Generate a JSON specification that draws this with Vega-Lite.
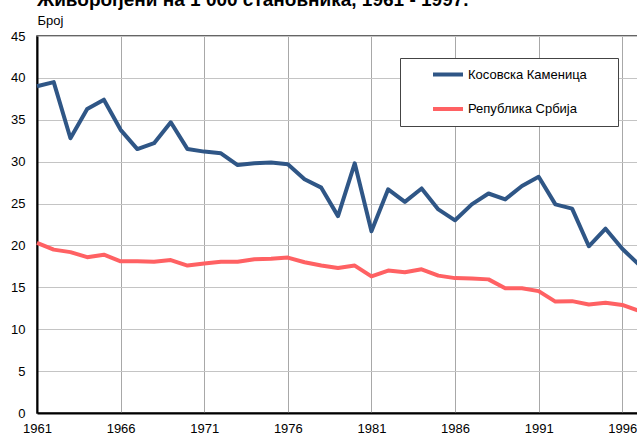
{
  "$schema": "https://vega.github.io/schema/vega-lite/v6.json",
  "width": 602,
  "height": 377,
  "autosize": {"type": "none"},
  "padding": {"left": 37, "top": 36, "right": 0, "bottom": 23},
  "background": "white",
  "title": {
    "text": "Живорођени на 1 000 становника, 1961 - 1997.",
    "anchor": "start",
    "frame": "group",
    "font": "Liberation Sans",
    "fontSize": 19,
    "fontWeight": "bold",
    "color": "#000000",
    "baseline": "alphabetic",
    "offset": -11
  },
  "data": {
    "values": [
      {"year": 1961, "region": "Косовска Каменица", "value": 39.0},
      {"year": 1962, "region": "Косовска Каменица", "value": 39.5},
      {"year": 1963, "region": "Косовска Каменица", "value": 32.8},
      {"year": 1964, "region": "Косовска Каменица", "value": 36.3},
      {"year": 1965, "region": "Косовска Каменица", "value": 37.4},
      {"year": 1966, "region": "Косовска Каменица", "value": 33.8},
      {"year": 1967, "region": "Косовска Каменица", "value": 31.5},
      {"year": 1968, "region": "Косовска Каменица", "value": 32.2},
      {"year": 1969, "region": "Косовска Каменица", "value": 34.7},
      {"year": 1970, "region": "Косовска Каменица", "value": 31.5},
      {"year": 1971, "region": "Косовска Каменица", "value": 31.2},
      {"year": 1972, "region": "Косовска Каменица", "value": 31.0},
      {"year": 1973, "region": "Косовска Каменица", "value": 29.6},
      {"year": 1974, "region": "Косовска Каменица", "value": 29.8},
      {"year": 1975, "region": "Косовска Каменица", "value": 29.9},
      {"year": 1976, "region": "Косовска Каменица", "value": 29.7},
      {"year": 1977, "region": "Косовска Каменица", "value": 27.9},
      {"year": 1978, "region": "Косовска Каменица", "value": 26.9},
      {"year": 1979, "region": "Косовска Каменица", "value": 23.5},
      {"year": 1980, "region": "Косовска Каменица", "value": 29.8},
      {"year": 1981, "region": "Косовска Каменица", "value": 21.7},
      {"year": 1982, "region": "Косовска Каменица", "value": 26.7},
      {"year": 1983, "region": "Косовска Каменица", "value": 25.2},
      {"year": 1984, "region": "Косовска Каменица", "value": 26.8},
      {"year": 1985, "region": "Косовска Каменица", "value": 24.3},
      {"year": 1986, "region": "Косовска Каменица", "value": 23.0},
      {"year": 1987, "region": "Косовска Каменица", "value": 24.9},
      {"year": 1988, "region": "Косовска Каменица", "value": 26.2},
      {"year": 1989, "region": "Косовска Каменица", "value": 25.5},
      {"year": 1990, "region": "Косовска Каменица", "value": 27.1},
      {"year": 1991, "region": "Косовска Каменица", "value": 28.2},
      {"year": 1992, "region": "Косовска Каменица", "value": 24.9},
      {"year": 1993, "region": "Косовска Каменица", "value": 24.4},
      {"year": 1994, "region": "Косовска Каменица", "value": 19.9},
      {"year": 1995, "region": "Косовска Каменица", "value": 22.0},
      {"year": 1996, "region": "Косовска Каменица", "value": 19.6},
      {"year": 1997, "region": "Косовска Каменица", "value": 17.7},
      {"year": 1961, "region": "Република Србија", "value": 20.3},
      {"year": 1962, "region": "Република Србија", "value": 19.5},
      {"year": 1963, "region": "Република Србија", "value": 19.2},
      {"year": 1964, "region": "Република Србија", "value": 18.6},
      {"year": 1965, "region": "Република Србија", "value": 18.9},
      {"year": 1966, "region": "Република Србија", "value": 18.1},
      {"year": 1967, "region": "Република Србија", "value": 18.1},
      {"year": 1968, "region": "Република Србија", "value": 18.05},
      {"year": 1969, "region": "Република Србија", "value": 18.25},
      {"year": 1970, "region": "Република Србија", "value": 17.6},
      {"year": 1971, "region": "Република Србија", "value": 17.85},
      {"year": 1972, "region": "Република Србија", "value": 18.05},
      {"year": 1973, "region": "Република Србија", "value": 18.05},
      {"year": 1974, "region": "Република Србија", "value": 18.35},
      {"year": 1975, "region": "Република Србија", "value": 18.4},
      {"year": 1976, "region": "Република Србија", "value": 18.55},
      {"year": 1977, "region": "Република Србија", "value": 18.0},
      {"year": 1978, "region": "Република Србија", "value": 17.6},
      {"year": 1979, "region": "Република Србија", "value": 17.3},
      {"year": 1980, "region": "Република Србија", "value": 17.6},
      {"year": 1981, "region": "Република Србија", "value": 16.3},
      {"year": 1982, "region": "Република Србија", "value": 17.0},
      {"year": 1983, "region": "Република Србија", "value": 16.8},
      {"year": 1984, "region": "Република Србија", "value": 17.15},
      {"year": 1985, "region": "Република Србија", "value": 16.4},
      {"year": 1986, "region": "Република Србија", "value": 16.1},
      {"year": 1987, "region": "Република Србија", "value": 16.05},
      {"year": 1988, "region": "Република Србија", "value": 15.95},
      {"year": 1989, "region": "Република Србија", "value": 14.9},
      {"year": 1990, "region": "Република Србија", "value": 14.9},
      {"year": 1991, "region": "Република Србија", "value": 14.55},
      {"year": 1992, "region": "Република Србија", "value": 13.3},
      {"year": 1993, "region": "Република Србија", "value": 13.35},
      {"year": 1994, "region": "Република Србија", "value": 12.95},
      {"year": 1995, "region": "Република Србија", "value": 13.15},
      {"year": 1996, "region": "Република Србија", "value": 12.9},
      {"year": 1997, "region": "Република Србија", "value": 12.2}
    ]
  },
  "mark": {"type": "line", "strokeWidth": 4, "strokeJoin": "round"},
  "encoding": {
    "x": {
      "field": "year",
      "type": "quantitative",
      "scale": {"domain": [1961, 1997], "nice": false, "zero": false},
      "axis": {
        "values": [1961, 1966, 1971, 1976, 1981, 1986, 1991, 1996],
        "format": "d",
        "title": null,
        "grid": true,
        "gridColor": "#a8a8a8",
        "gridWidth": 1,
        "ticks": false,
        "labelPadding": 9,
        "labelFlush": false,
        "labelFont": "Liberation Sans",
        "labelFontSize": 13,
        "labelColor": "#000000",
        "domainColor": "#000000",
        "domainWidth": 2
      }
    },
    "y": {
      "field": "value",
      "type": "quantitative",
      "scale": {"domain": [0, 45], "nice": false},
      "axis": {
        "values": [0, 5, 10, 15, 20, 25, 30, 35, 40, 45],
        "title": "Број",
        "titleAngle": 0,
        "titleX": 0,
        "titleY": -12,
        "titleAlign": "left",
        "titleBaseline": "alphabetic",
        "titleFont": "Liberation Sans",
        "titleFontSize": 13,
        "titleFontWeight": "normal",
        "titleColor": "#000000",
        "grid": true,
        "gridColor": "#c4c4c4",
        "gridWidth": 1,
        "ticks": false,
        "labelPadding": 12,
        "labelFont": "Liberation Sans",
        "labelFontSize": 13,
        "labelColor": "#000000",
        "domainColor": "#000000",
        "domainWidth": 2
      }
    },
    "color": {
      "field": "region",
      "type": "nominal",
      "scale": {
        "domain": ["Косовска Каменица", "Република Србија"],
        "range": ["#2f5686", "#ff6163"]
      },
      "legend": {
        "orient": "none",
        "legendX": 363,
        "legendY": 22,
        "title": " ",
        "titleOrient": "right",
        "titlePadding": 21,
        "titleFontSize": 13,
        "strokeColor": "#444444",
        "fillColor": "white",
        "padding": 10,
        "symbolType": "stroke",
        "symbolSize": 900,
        "symbolStrokeWidth": 4,
        "clipHeight": 13,
        "rowPadding": 20.5,
        "symbolOffset": 21,
        "labelOffset": 3,
        "labelFont": "Liberation Sans",
        "labelFontSize": 13,
        "labelColor": "#000000"
      }
    }
  },
  "config": {
    "font": "Liberation Sans",
    "view": {"stroke": "#333333", "strokeWidth": 1.5}
  }
}
